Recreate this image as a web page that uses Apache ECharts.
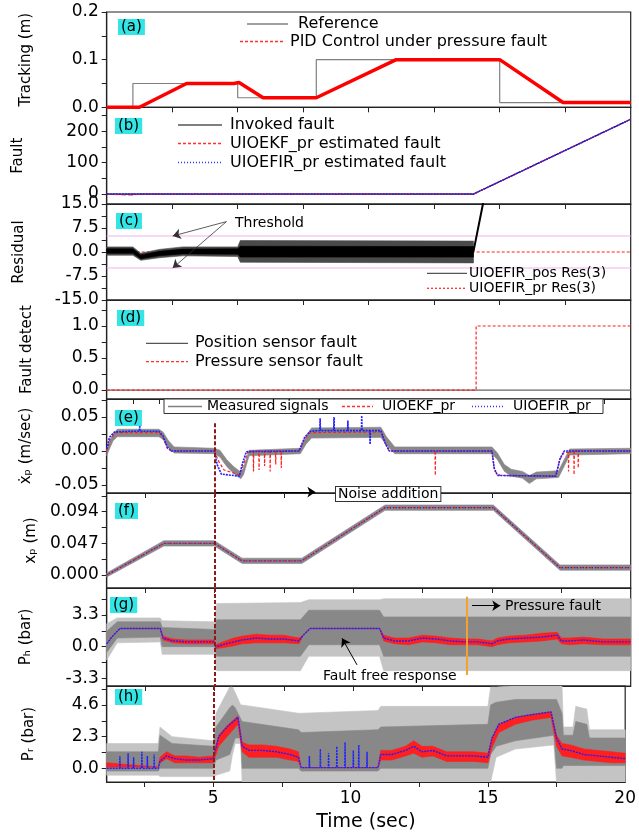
<!DOCTYPE html>
<html>
<head>
<meta charset="utf-8">
<title>Fault detection panels</title>
<script src="https://cdn.jsdelivr.net/npm/echarts@6.0.0/dist/echarts.min.js"></script>
<style>
  html, body { margin: 0; padding: 0; background: #fff; }
  #main { width: 639px; height: 837px; }
</style>
</head>
<body>
<div id="main"></div>
<script>
// (a) tracking
var refT = [0, 1, 1, 5, 5, 8, 8, 15, 15, 20];
var refV = [0, 0, 0.05, 0.05, 0.02, 0.02, 0.1, 0.1, 0.01, 0.01];
var pidT = [0, 1.25, 3.05, 4.85, 5.05, 5.97, 8.0, 11.05, 15.0, 17.42, 20];
var pidV = [0, 0, 0.05, 0.05, 0.052, 0.02, 0.02, 0.1, 0.1, 0.01, 0.01];

// (b) fault
var fltT = [0, 14, 20];
var fltV = [0, 0, 238];
var ekfT = [0, 0.5, 1.0, 1.3, 14, 20];
var ekfV = [0, -2, -3, 0, 0, 238];

// (c) residual
var cT = [0, 1.0, 1.3, 2.0, 2.9, 5.0, 5.1, 14.0];
var cLo = [-1.0, -1.0, -2.6, -1.8, -1.2, -1.4, -3.2, -3.4];
var cHi = [1.6, 1.6, -0.4, 0.8, 1.6, 1.6, 3.6, 3.4];
var cILo = [-0.4, -0.4, -2.1, -1.2, -0.6, -0.7, -1.6, -1.6];
var cIHi = [1.0, 1.0, -0.9, 0.2, 0.9, 1.0, 1.8, 1.7];
var cLineT = [0, 1.0, 1.3, 2.0, 2.9, 14.0, 14.36, 14.6];
var cLineV = [0.4, 0.4, -1.5, -0.5, 0.2, 0.2, 15, 22];
var prResT = [0, 20];
var prResV = [0, 0];
var thrT = [0, 20];
var thrUp = [5, 5];
var thrDn = [-5, -5];

// (d) fault detect
var dPosT = [0, 20];
var dPosV = [0, 0];
var dPrT = [0, 14.1, 14.1, 20];
var dPrV = [0, 0, 1, 1];

// (e) velocity
var eT = [1.12, 1.2, 1.35, 1.5, 3.0, 3.15, 3.35, 3.55, 5.0, 5.2, 5.45, 5.7, 5.95, 6.05, 6.25, 8.1, 8.3, 8.5, 11.0, 11.2, 11.5, 15.0, 15.2, 15.45, 15.7, 16.1, 16.35, 16.6, 17.4, 17.55, 17.8, 20];
var eLo = [-0.007, 0.001, 0.015, 0.021, 0.021, 0.017, 0.005, -0.003, -0.004, -0.009, -0.023, -0.033, -0.041, -0.035, -0.007, -0.004, 0.01, 0.019, 0.02, 0.009, -0.004, -0.004, -0.013, -0.03, -0.037, -0.04, -0.048, -0.041, -0.039, -0.027, -0.006, -0.004];
var eHi = [0.001, 0.011, 0.025, 0.032, 0.032, 0.028, 0.015, 0.006, 0.004, 0.001, -0.013, -0.023, -0.031, -0.025, 0.001, 0.004, 0.021, 0.034, 0.035, 0.021, 0.006, 0.006, -0.003, -0.02, -0.027, -0.03, -0.036, -0.031, -0.029, -0.017, 0.003, 0.004];
var eFirT = [1.12, 1.22, 1.4, 2.0, 2.3, 2.31, 2.32, 3.0, 3.15, 3.3, 3.45, 5.0, 5.1, 5.25, 5.9, 6.0, 6.15, 8.05, 8.25, 8.45, 8.8, 8.81, 8.82, 9.3, 9.31, 9.32, 9.8, 9.81, 9.82, 10.3, 10.31, 10.32, 10.6, 10.61, 10.62, 11.0, 11.15, 11.3, 15.0, 15.08, 15.2, 17.3, 17.45, 17.6, 20];
var eFirV = [0.003, 0.02, 0.028, 0.029, 0.029, 0.038, 0.029, 0.029, 0.022, 0.006, 0.0, 0.0, -0.02, -0.034, -0.037, -0.02, -0.001, 0.0, 0.02, 0.029, 0.03, 0.048, 0.03, 0.03, 0.05, 0.03, 0.03, 0.045, 0.03, 0.03, 0.052, 0.03, 0.03, 0.01, 0.03, 0.03, 0.012, 0.0, 0.0, -0.025, -0.036, -0.037, -0.012, 0.0, 0.0];
var eEkfT = [1.12, 1.25, 1.45, 3.0, 3.15, 3.3, 3.45, 5.0, 5.15, 5.35, 5.9, 6.05, 6.2, 6.4, 6.41, 6.42, 6.6, 6.61, 6.62, 6.8, 6.81, 6.82, 7.0, 7.01, 7.02, 7.2, 7.21, 7.22, 7.4, 7.41, 7.42, 8.05, 8.25, 8.45, 11.0, 11.15, 11.3, 12.95, 12.96, 12.97, 15.0, 15.1, 15.3, 17.3, 17.45, 17.6, 17.75, 17.76, 17.77, 17.95, 17.96, 17.97, 18.1, 18.11, 18.12, 20];
var eEkfV = [0, 0.018, 0.027, 0.027, 0.02, 0.004, 0, 0, -0.015, -0.028, -0.035, -0.02, -0.002, 0, -0.03, 0, 0, -0.028, 0, 0, -0.022, 0, 0, -0.03, 0, 0, -0.02, 0, 0, -0.025, 0, 0, 0.018, 0.027, 0.028, 0.012, 0, 0, -0.036, 0, 0, -0.03, -0.036, -0.037, -0.012, -0.002, -0.002, -0.03, -0.002, 0, -0.035, 0, 0, -0.025, 0, 0];

// (f) position
var fT = [1.12, 3.18, 5.0, 6.0, 8.15, 11.15, 15.05, 17.45, 20];
var fEst = [0, 0.047, 0.047, 0.021, 0.021, 0.1, 0.1, 0.011, 0.011];
var fLo = [-0.003, 0.043, 0.043, 0.017, 0.017, 0.096, 0.096, 0.007, 0.007];
var fHi = [0.003, 0.051, 0.051, 0.025, 0.025, 0.104, 0.104, 0.015, 0.015];

// (g) head-side pressure
var gGT = [1.12, 1.5, 3.05, 3.12, 5.0, 5.08, 8.1, 8.4, 10.95, 11.1, 20];
var gOLo = [-1.4, 0.4, 0.5, -0.8, -0.8, -2.5, -2.5, -1.0, -1.0, -2.5, -2.5];
var gOHi = [2.4, 3.0, 3.0, 2.7, 2.6, 4.5, 4.6, 4.9, 4.9, 5.0, 5.0];
var gILo = [-0.6, 0.9, 1.0, 0.0, 0.0, -1.0, -1.0, 0.2, 0.2, -1.0, -1.0];
var gIHi = [1.6, 2.6, 2.6, 2.0, 1.8, 2.8, 2.8, 3.8, 3.8, 3.1, 3.1];
var gT = [1.12, 1.3, 1.6, 3.05, 3.15, 3.5, 4.0, 5.0, 5.05, 5.3, 5.7, 6.0, 6.5, 7.0, 7.5, 8.05, 8.2, 8.45, 10.95, 11.1, 11.5, 12.0, 12.5, 13.0, 13.5, 14.0, 14.5, 15.0, 15.2, 15.6, 16.2, 16.8, 17.35, 17.5, 17.8, 18.3, 19.0, 19.5, 20];
var gFir = [0.3, 1.0, 1.9, 1.9, 0.9, 0.6, 0.5, 0.5, 0.0, 0.2, 0.5, 0.7, 0.9, 0.8, 0.8, 0.6, 1.2, 1.9, 1.9, 0.9, 0.6, 0.6, 0.9, 0.8, 0.6, 0.5, 0.5, 0.3, 0.6, 0.8, 0.9, 1.0, 1.2, 0.6, 0.6, 0.7, 0.5, 0.5, 0.5];
var gEkfLo = [0.3, 1.0, 1.9, 1.9, 0.7, 0.4, 0.3, 0.3, -0.2, -0.1, 0.1, 0.3, 0.4, 0.4, 0.4, 0.3, 1.2, 1.9, 1.9, 0.6, 0.3, 0.2, 0.5, 0.4, 0.2, 0.2, 0.2, 0.0, 0.2, 0.4, 0.5, 0.6, 0.8, 0.3, 0.2, 0.3, 0.2, 0.2, 0.2];
var gEkfHi = [0.3, 1.0, 1.9, 1.9, 1.1, 0.8, 0.7, 0.7, 0.2, 0.5, 0.9, 1.1, 1.3, 1.2, 1.2, 0.9, 1.2, 1.9, 1.9, 1.2, 0.9, 0.9, 1.2, 1.1, 0.9, 0.8, 0.8, 0.6, 0.9, 1.1, 1.2, 1.4, 1.5, 0.9, 0.9, 1.0, 0.8, 0.8, 0.8];

// (h) rod-side pressure
var hGT = [1.12, 3.0, 3.06, 3.5, 5.0, 5.1, 5.6, 5.7, 5.8, 6.0, 6.05, 8.1, 8.2, 11.0, 11.1, 15.0, 15.1, 15.3, 16.0, 17.4, 17.5, 17.7, 17.75, 18.1, 18.2, 18.6, 18.7, 20];
var hOLo = [-0.5, -0.5, -0.6, -0.6, -0.6, -0.5, -0.2, 1.0, 1.8, 1.8, -1.0, -1.0, -1.0, -1.0, -1.0, -1.0, -1.0, 0.8, 1.4, 1.7, -1.0, -1.0, -1.0, -1.0, -1.0, -1.0, -1.0, -1.0];
var hOHi = [1.8, 1.8, 3.0, 2.3, 2.0, 4.0, 5.9, 5.9, 5.5, 4.6, 4.6, 4.0, 4.0, 4.2, 4.5, 4.5, 5.9, 5.9, 6.0, 6.0, 6.0, 6.0, 3.0, 3.0, 4.5, 4.3, 2.8, 2.8];
var hILo = [-0.2, -0.2, 0.0, 0.0, 0.0, 0.6, 1.0, 1.6, 2.2, 2.2, 0.0, 0.0, -0.2, -0.2, 0.0, 0.0, 1.0, 1.6, 2.0, 2.4, 0.0, 0.0, 0.2, 0.2, 0.2, 0.2, 0.2, 0.2];
var hIHi = [1.2, 1.2, 2.4, 1.8, 1.6, 3.0, 4.4, 4.6, 4.4, 3.6, 3.4, 2.8, 2.6, 2.8, 3.0, 3.2, 4.6, 4.8, 5.0, 5.0, 5.0, 4.0, 2.4, 2.4, 3.4, 3.2, 2.2, 2.2];
var hT = [1.12, 3.0, 3.06, 3.3, 3.6, 4.0, 4.5, 5.0, 5.2, 5.5, 5.9, 6.05, 6.3, 6.8, 7.3, 7.8, 8.1, 8.2, 11.0, 11.1, 11.5, 12.0, 12.3, 12.6, 13.0, 13.5, 14.0, 14.5, 15.0, 15.15, 15.4, 16.0, 16.6, 17.3, 17.5, 17.7, 18.0, 18.5, 19.0, 19.5, 20];
var hEkfLo = [0.1, 0.1, 0.4, 0.7, 0.4, 0.4, 0.4, 0.4, 1.6, 2.3, 3.2, 1.2, 0.8, 0.8, 0.8, 0.6, 0.5, 0.05, 0.05, 0.6, 0.6, 0.9, 1.1, 0.8, 0.9, 0.5, 0.5, 0.5, 0.4, 1.5, 2.6, 3.2, 3.5, 3.7, 1.6, 0.9, 0.8, 0.6, 0.5, 0.4, 0.4];
var hEkfHi = [0.4, 0.1, 0.8, 1.2, 0.9, 0.9, 0.8, 0.9, 2.4, 3.1, 3.8, 1.9, 1.7, 1.7, 1.6, 1.4, 1.2, 0.05, 0.05, 1.3, 1.3, 1.6, 2.0, 1.6, 1.6, 1.2, 1.2, 1.2, 1.1, 2.2, 3.2, 3.7, 3.9, 4.1, 2.4, 1.8, 1.7, 1.4, 1.3, 1.2, 1.1];
var hFirT = [1.12, 1.59, 1.6, 1.61, 1.89, 1.9, 1.91, 2.09, 2.1, 2.11, 2.39, 2.4, 2.41, 2.59, 2.6, 2.61, 2.84, 2.85, 2.86, 3.0, 3.06, 3.3, 3.6, 4.0, 4.5, 5.0, 5.2, 5.5, 5.9, 6.05, 6.3, 6.8, 7.3, 7.8, 8.1, 8.2, 8.49, 8.5, 8.51, 8.89, 8.9, 8.91, 9.19, 9.2, 9.21, 9.49, 9.5, 9.51, 9.79, 9.8, 9.81, 10.09, 10.1, 10.11, 10.29, 10.3, 10.31, 10.59, 10.6, 10.61, 11.0, 11.1, 11.5, 12.0, 12.3, 12.6, 13.0, 13.5, 14.0, 14.5, 15.0, 15.15, 15.4, 16.0, 16.6, 17.3, 17.5, 17.7, 18.0, 18.5, 19.0, 19.5, 20];
var hFirV = [0.0, 0.0, 0.9, 0.0, 0.0, 1.1, 0.0, 0.0, 0.8, 0.0, 0.0, 1.2, 0.0, 0.0, 0.9, 0.0, 0.0, 1.0, 0.0, 0.0, 0.5, 0.9, 0.7, 0.6, 0.6, 0.7, 2.3, 3.0, 3.7, 1.6, 1.3, 1.3, 1.2, 1.0, 0.8, 0.05, 0.05, 0.9, 0.05, 0.05, 1.4, 0.05, 0.05, 1.1, 0.05, 0.05, 1.6, 0.05, 0.05, 1.9, 0.05, 0.05, 1.3, 0.05, 0.05, 1.7, 0.05, 0.05, 1.2, 0.05, 0.05, 1.0, 1.0, 1.3, 1.6, 1.2, 1.3, 0.9, 0.9, 0.9, 0.8, 2.2, 3.2, 3.7, 3.9, 4.1, 2.2, 1.4, 1.3, 1.0, 0.9, 0.8, 0.7];

var FONT = 'DejaVu Sans';
var RED = '#ff1f1f', BLUE = '#1f1fff', GRAY = '#888888', LGRAY = '#c4c4c4';

function pts(t, v) {
    return t.map(function (x, i) { return [x, v[i]]; });
}

function line(g, t, v, color, width, type, z) {
    return {
        type: 'line', xAxisIndex: g, yAxisIndex: g, data: pts(t, v),
        symbol: 'none', silent: true, z: z, clip: true,
        lineStyle: {color: color, width: width, type: type}
    };
}

// filled area between a lower and an upper trace (noise envelopes)
function band(g, t, lo, hi, color, z) {
    return {
        type: 'custom', xAxisIndex: g, yAxisIndex: g, silent: true, z: z, clip: true,
        data: t.map(function (x, i) { return [x, lo[i], hi[i]]; }),
        encode: {x: 0, y: [1, 2]},
        renderItem: function (params, api) {
            if (params.dataIndexInside !== 0) return;
            var up = [], dn = [];
            for (var i = 0; i < params.dataInsideLength; i++) {
                up.push(api.coord([api.value(0, i), api.value(2, i)]));
                dn.push(api.coord([api.value(0, i), api.value(1, i)]));
            }
            return {
                type: 'polygon', shape: {points: up.concat(dn.reverse())},
                style: {fill: color, stroke: color, lineWidth: 0.6}
            };
        }
    };
}

// annotation arrows / marker lines hosted on an empty series
function anno(g, pairs, color, width, type, arrow) {
    return {
        type: 'line', xAxisIndex: g, yAxisIndex: g, data: [], silent: true, z: 6,
        markLine: {
            silent: true, animation: false,
            symbol: arrow ? ['none', 'arrow'] : ['none', 'none'], symbolSize: 8,
            label: {show: false},
            lineStyle: {color: color, width: width, type: type},
            data: pairs.map(function (p) { return [{coord: p[0]}, {coord: p[1]}]; })
        }
    };
}

var grids = [
    {top: 12, height: 95.3},
    {top: 107.3, height: 96.7},
    {top: 204, height: 96},
    {top: 300, height: 99},
    {top: 399, height: 94},
    {top: 493, height: 95},
    {top: 588, height: 98},
    {top: 686, height: 96}
].map(function (g) {
    return {left: 106.7, right: 8.3, top: g.top, height: g.height, show: true,
        borderColor: '#222', borderWidth: 1.2, containLabel: false};
});

var tk25 = [2.5, 5, 7.5, 10, 12.5, 15, 17.5];
var tk1 = [1, 2, 3, 4, 5, 6, 7, 8, 9, 10, 11, 12, 13, 14, 15, 16, 17, 18, 19];

function xAx(g, min, ticks, labels, name) {
    return {
        type: 'value', gridIndex: g, min: min, max: 20,
        axisLine: {show: true, onZero: false, lineStyle: {color: '#222', width: 1.2}},
        axisTick: {show: true, inside: false, length: 5, customValues: ticks, lineStyle: {color: '#222'}},
        axisLabel: {show: !!labels, customValues: labels || [0], fontFamily: FONT, fontSize: 17, color: '#000', margin: 8},
        splitLine: {show: false},
        name: name || '', nameLocation: 'middle', nameGap: 31,
        nameTextStyle: {fontFamily: FONT, fontSize: 19, color: '#000'}
    };
}

function yAx(g, min, max, labels, ticks, dec, name, gap) {
    return {
        type: 'value', gridIndex: g, min: min, max: max,
        axisLine: {show: true, onZero: false, lineStyle: {color: '#222', width: 1.2}},
        axisTick: {show: true, inside: false, length: 5, customValues: ticks, lineStyle: {color: '#222'}},
        axisLabel: {
            customValues: labels, fontFamily: FONT, fontSize: 17, color: '#000', margin: 8,
            formatter: function (v) { return v.toFixed(dec); }
        },
        splitLine: {show: false},
        name: name, nameLocation: 'middle', nameGap: gap,
        nameTextStyle: {fontFamily: FONT, fontSize: 15, color: '#000'}
    };
}

var xAxes = [
    xAx(0, 0, tk25), xAx(1, 0, tk25), xAx(2, 0, tk25), xAx(3, 0, tk1),
    xAx(4, 1.12, tk25), xAx(5, 1.12, tk25), xAx(6, 1.12, tk25),
    xAx(7, 1.12, tk25, [5, 10, 15, 20], 'Time (sec)')
];
var yAxes = [
    yAx(0, 0, 0.2, [0, 0.1, 0.2], [0, 0.05, 0.1, 0.15, 0.2], 1, 'Tracking (m)', 73),
    yAx(1, -31.7, 276, [0, 100, 200], [0, 50, 100, 150, 200, 250], 0, 'Fault', 81),
    yAx(2, -15, 15, [-15, -7.5, 0, 7.5, 15], [-15, -11.25, -7.5, -3.75, 0, 3.75, 7.5, 11.25, 15], 1, 'Residual', 80),
    yAx(3, -0.14, 1.406, [0, 0.5, 1.0], [0, 0.25, 0.5, 0.75, 1.0, 1.25], 1, 'Fault detect', 72),
    yAx(4, -0.0618, 0.0765, [-0.05, 0, 0.05], [-0.05, -0.025, 0, 0.025, 0.05, 0.075], 2, 'ẋₚ (m/sec)', 73),
    yAx(5, -0.0193, 0.1218, [0, 0.047, 0.094], [0, 0.0235, 0.047, 0.0705, 0.094, 0.1175], 3, 'xₚ (m)', 68),
    yAx(6, -4.10, 6.12, [-3.3, 0, 3.3], [-3.3, -1.65, 0, 1.65, 3.3, 4.95], 1, 'Pₕ (bar)', 73),
    yAx(7, -0.996, 5.98, [0, 2.3, 4.6], [0, 1.15, 2.3, 3.45, 4.6, 5.75], 1, 'Pᵣ (bar)', 70)
];

var series = [
    // (a)
    line(0, refT, refV, '#808080', 1.2, 'solid', 3),
    line(0, pidT, pidV, '#ff0000', 3.5, 'solid', 4),
    // (b)
    line(1, fltT, fltV, '#000', 1.2, 'solid', 3),
    line(1, ekfT, ekfV, RED, 1.2, 'dashed', 4),
    line(1, fltT, fltV, BLUE, 1.5, [2, 1], 5),
    // (c)
    line(2, thrT, thrUp, '#efb3ef', 1.2, 'solid', 2),
    line(2, thrT, thrDn, '#efb3ef', 1.2, 'solid', 2),
    line(2, prResT, prResV, RED, 1.2, [3, 2], 2),
    band(2, cT, cLo, cHi, '#4a4a4a', 3),
    band(2, cT, cILo, cIHi, '#000', 3),
    line(2, cLineT, cLineV, '#000', 2, 'solid', 4),
    anno(2, [[[4.57, 9.5], [2.52, 5.0]], [[4.57, 9.5], [2.52, -5.0]]], '#333', 0.8, 'solid', true),
    // (d)
    line(3, dPosT, dPosV, '#666', 1.2, 'solid', 3),
    line(3, dPrT, dPrV, RED, 1.2, [3, 2], 4),
    // (e)
    band(4, eT, eLo, eHi, GRAY, 2),
    line(4, eEkfT, eEkfV, RED, 1.2, [3, 2], 3),
    line(4, eFirT, eFirV, BLUE, 1.6, [2, 1], 4),
    anno(4, [[[5, 0.041], [5, -0.0618]]], '#8b1a1a', 2, [4, 2], false),
    anno(4, [[[5.05, -0.0605], [8.64, -0.0605]]], '#000', 1.2, 'solid', true),
    // (f)
    band(5, fT, fLo, fHi, GRAY, 2),
    line(5, fT, fEst, RED, 1.2, [3, 2], 3),
    line(5, fT, fEst, BLUE, 1.2, [1, 2], 4),
    anno(5, [[[5, 0.1218], [5, -0.0193]]], '#8b1a1a', 2, [4, 2], false),
    // (g)
    band(6, gGT, gOLo, gOHi, LGRAY, 1),
    band(6, gGT, gILo, gIHi, GRAY, 2),
    band(6, gT, gEkfLo, gEkfHi, RED, 3),
    line(6, gT, gFir, BLUE, 1.4, [2, 1], 4),
    anno(6, [[[5, 6.12], [5, -4.10]]], '#8b1a1a', 2, [4, 2], false),
    anno(6, [[[14.1, 5.2], [14.1, -2.95]]], '#f5a033', 2, 'solid', false),
    anno(6, [[[14.28, 4.27], [15.3, 4.27]], [[10.14, -1.9], [9.6, 0.87]]], '#000', 1, 'solid', true),
    // (h)
    band(7, hGT, hOLo, hOHi, LGRAY, 1),
    band(7, hGT, hILo, hIHi, GRAY, 2),
    band(7, hT, hEkfLo, hEkfHi, RED, 3),
    line(7, hFirT, hFirV, BLUE, 1.4, [2, 1], 4),
    anno(7, [[[5, 5.98], [5, -0.996]]], '#8b1a1a', 2, [4, 2], false)
];

function txt(x, y, s, size, extra) {
    var st = {text: s, fill: '#000', font: size + 'px "' + FONT + '"', verticalAlign: 'middle', align: 'left'};
    for (var k in (extra || {})) st[k] = extra[k];
    return {type: 'text', x: x, y: y, z: 100, style: st};
}
function seg(x1, x2, y, color, width, dash) {
    return {type: 'line', z: 100, shape: {x1: x1, y1: y, x2: x2, y2: y},
        style: {stroke: color, lineWidth: width, lineDash: dash || null}};
}
function tag(x, y, s) {
    return {type: 'text', x: x, y: y, z: 100, style: {text: s, fill: '#000', font: '15px "' + FONT + '"',
        backgroundColor: '#33e5e5', padding: [1, 3, 0, 3], verticalAlign: 'top'}};
}

var graphics = [
    tag(118, 19, '(a)'), tag(115, 118, '(b)'), tag(116, 213, '(c)'), tag(117, 310, '(d)'),
    tag(115, 410, '(e)'), tag(115, 503, '(f)'), tag(110, 597, '(g)'), tag(115, 689, '(h)'),
    // legend (a)
    seg(247, 288, 24, '#808080', 1.3), txt(298, 24, 'Reference', 16),
    seg(240, 283, 41.5, '#ff3030', 1.3, [3, 2]), txt(290, 41.5, 'PID Control under pressure fault', 16),
    // legend (b)
    seg(178, 222, 125, '#555', 1.3), txt(230, 125, 'Invoked fault', 16),
    seg(178, 222, 143.5, '#ff3030', 1.3, [3, 2]), txt(230, 143.5, 'UIOEKF_pr estimated fault', 16),
    seg(178, 222, 162.5, '#3030ff', 1.3, [1, 2]), txt(230, 162.5, 'UIOEFIR_pr estimated fault', 16),
    // legend (c)
    txt(235, 223, 'Threshold', 14),
    seg(427, 467, 273.3, '#555', 1.3), txt(469, 273.3, 'UIOEFIR_pos Res(3)', 14),
    seg(427, 467, 288.3, '#ff3030', 1.3, [2, 2]), txt(469, 288.3, 'UIOEFIR_pr Res(3)', 14),
    // legend (d)
    seg(146, 188, 343.3, '#555', 1.3), txt(195, 343.3, 'Position sensor fault', 16),
    seg(146, 188, 361.7, '#ff3030', 1.3, [3, 2]), txt(195, 361.7, 'Pressure sensor fault', 16),
    // legend (e)
    {type: 'rect', z: 99, shape: {x: 164, y: 399, width: 439, height: 14.5},
        style: {fill: '#fff', stroke: '#333', lineWidth: 1}},
    seg(168, 202, 406.5, '#808080', 1.3), txt(207, 406.5, 'Measured signals', 14),
    seg(342, 373, 406.5, '#ff3030', 1.3, [3, 2]), txt(382, 406.5, 'UIOEKF_pr', 14),
    seg(472, 505, 406.5, '#3030ff', 1.3, [1, 2]), txt(513, 406.5, 'UIOEFIR_pr', 14),
    // annotations
    txt(336, 494, 'Noise addition', 14, {borderColor: '#333', borderWidth: 1, backgroundColor: '#fff', padding: [0, 2]}),
    txt(505, 606, 'Pressure fault', 14),
    txt(323, 676, 'Fault free response', 14)
];

var chart = echarts.init(document.getElementById('main'));
chart.setOption({
    animation: false,
    textStyle: {fontFamily: FONT},
    grid: grids,
    xAxis: xAxes,
    yAxis: yAxes,
    series: series,
    graphic: graphics
});
</script>
</body>
</html>
